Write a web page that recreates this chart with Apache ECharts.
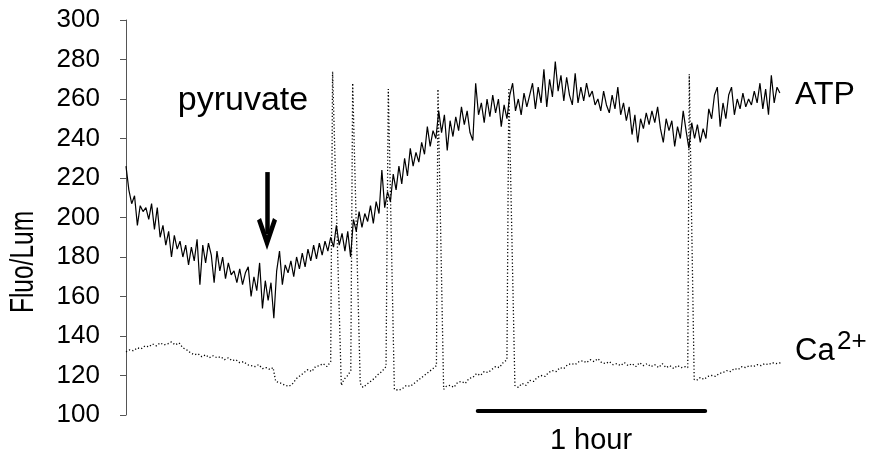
<!DOCTYPE html>
<html lang="en">
<head>
    <meta charset="UTF-8">
    <title>ATP / Ca2+</title>
    <script type="text/javascript" src="https://cdn.jsdelivr.net/npm/echarts@6.0.0/dist/echarts.min.js"></script>
    <style>
        html, body {margin: 0; padding: 0; background: #fff;}
        #chart {width: 881px; height: 461px;}
    </style>
</head>
<body>
<div id="chart"></div>
<script>
    // time axis in minutes, ATP sampled every 0.75 min
    var atpStep = 0.75;
    var atpValues = [
        226, 214, 207, 211, 196, 206, 203, 205, 199, 207,
        194, 205, 190, 196, 186, 193, 180, 191, 184, 188,
        180, 186, 176, 185, 178, 189, 166, 186, 177, 187,
        181, 167, 183, 173, 180, 169, 177, 171, 173, 167,
        174, 166, 172, 175, 160, 170, 163, 177, 154, 168,
        158, 167, 149, 173, 183, 166, 176, 172, 178, 170,
        180, 174, 182, 175, 184, 178, 186, 179, 187, 181,
        188, 183, 190, 185, 196, 186, 192, 183, 193, 180,
        199, 193, 203, 195, 202, 198, 206, 197, 208, 202,
        224, 205, 213, 208, 222, 214, 226, 217, 230, 221,
        235, 226, 233, 228, 238, 232, 246, 236, 244, 240,
        254, 243, 252, 234, 249, 241, 251, 244, 256, 247,
        254, 243, 239, 268, 252, 258, 248, 260, 251, 262,
        253, 260, 246, 257, 250, 262, 268, 254, 260, 252,
        263, 256, 262, 268, 255, 266, 258, 275, 256, 270,
        261, 279, 264, 272, 259, 271, 262, 257, 273, 258,
        266, 259, 268, 261, 264, 257, 260, 254, 264, 257,
        253, 262, 255, 266, 252, 258, 249, 256, 242, 252,
        238, 250, 245, 253, 247, 254, 248, 256, 245, 238,
        250, 244, 249, 236, 246, 240, 254, 244, 235, 248,
        240, 247, 238, 245, 240, 255, 250, 262, 266, 246,
        258, 250, 262, 266, 252, 260, 255, 263, 256, 260,
        257, 264, 258, 268, 255, 265, 252, 272, 258, 266,
        263
    ];

    // Ca2+ trace: [minute, value]
    var caData = [
        [0, 132], [1, 133], [2, 132.5], [3, 134], [4, 133.5], [5, 135], [6, 134.5], [7, 136], [8, 135], [9, 136.5],
        [10, 135.5], [11, 136], [12, 137], [13, 135.5], [14, 136.5], [15, 134], [16, 133], [17, 131.5], [18, 130.5], [19, 131],
        [20, 129.5], [21, 130.5], [22, 129], [23, 130], [24, 129], [25, 129.5], [26, 128], [27, 129], [28, 127.5], [29, 128],
        [30, 126.5], [31, 127], [32, 125.5], [33, 125], [34, 124.5], [35, 125.5], [36, 123.5], [37, 124], [38, 123], [38.8, 124],
        [39.5, 117], [40, 116.5], [41, 116], [42, 115], [43, 114.5], [44, 116], [45, 118.5], [46, 120], [47, 121.5], [48, 123],
        [49, 122], [50, 124.5], [51, 125], [52, 126], [53, 124.5], [54, 127],
        [54.5, 274], [56.8, 115], [57.5, 118], [58.5, 120], [59.3, 122.5],
        [59.8, 268], [61.8, 116], [62.5, 114], [63.5, 115.5], [64.5, 117], [65.5, 118.5], [66.5, 120.5], [67.5, 122], [68.6, 124.5],
        [69.2, 265], [70.8, 113], [72, 112.5], [73, 113.5], [74, 115], [75, 114.5], [76, 116], [77, 117.5], [78, 119], [79, 120.5],
        [80, 122], [81, 123.5], [81.9, 125],
        [82.3, 265], [83.8, 113], [84.5, 114.5], [85.5, 115], [86.5, 114], [87.5, 116.5], [88.5, 117], [89.5, 116], [90.5, 118.5],
        [91.5, 119], [92.5, 121], [93.5, 120], [94.5, 122], [95.5, 121.5], [96.5, 123], [97.5, 124.5], [98.5, 124], [99.5, 126.5], [100.5, 128],
        [101, 265.6], [102.6, 115], [103.5, 114], [104.5, 116], [105.5, 115], [106.5, 117.5], [107.5, 117], [108.5, 119], [109.5, 120],
        [110.5, 119.5], [111.5, 121.5], [112.5, 122.5], [113.5, 122], [114.5, 124], [115.5, 123.5], [116.5, 125.5], [117.5, 126], [118.5, 125.5],
        [119.5, 127], [120.5, 127.5], [121.5, 126.5], [122.5, 128], [123.5, 127], [124.5, 128.5], [125.5, 126.5], [126.5, 126], [127.5, 127],
        [128.5, 125.5], [129.5, 126], [130.5, 125], [131.5, 126.5], [132.5, 125], [133.5, 126], [134.5, 124.5], [135.5, 126.5], [136.5, 125],
        [137.5, 126], [138.5, 124.5], [139.5, 125.5], [140.5, 124], [141.5, 126], [142.5, 124], [143.5, 125], [144.5, 123.5], [145.5, 125],
        [146.5, 124], [147.5, 124.5], [148.2, 124],
        [148.6, 272.6], [149.9, 118], [150.5, 117.5], [151.5, 119], [152.5, 118], [153.5, 119.5], [154.5, 120], [155.5, 119.5], [156.5, 121],
        [157.5, 121.5], [158.5, 122.5], [159.5, 122], [160.5, 123.5], [161.5, 123], [162.5, 124.5], [163.5, 124], [164.5, 125], [165.5, 124.5],
        [166.5, 125.5], [167.5, 125], [168.5, 126], [169.5, 125.5], [170.5, 126.5], [171.5, 126], [172.8, 126.5]
    ];

    var yTicks = [100, 300, 20];          // min, max, step
    var pyruvateAt = 37.2;                // minute of addition
    var arrowFrom = 223, arrowTo = 191.6; // arrow span on the y scale
    var scaleBarStart = 92.8, scaleBarMinutes = 60, scaleBarLevel = 102;

    var font = 'Liberation Sans';
    var atpData = atpValues.map(function (v, i) {
        return [i * atpStep, v];
    });

    var chevron = 'path://M10,0 L20,26 L16,28 L10,13 L4,28 L0,26 Z';

    var myChart = echarts.init(document.getElementById('chart'));
    var option = {
        animation: false,
        backgroundColor: '#fff',
        grid: {left: 126, right: 100, top: 20, bottom: 46},
        xAxis: {
            type: 'value',
            min: 0,
            max: 172.8,
            show: false
        },
        yAxis: {
            type: 'value',
            min: yTicks[0],
            max: yTicks[1],
            interval: yTicks[2],
            axisLine: {show: true, lineStyle: {color: '#555', width: 1}},
            axisTick: {show: true, length: 6, lineStyle: {color: '#555'}},
            splitLine: {show: false},
            axisLabel: {
                margin: 26,
                color: '#000',
                fontSize: 26,
                fontFamily: font
            }
        },
        series: [
            {
                name: 'ATP',
                type: 'line',
                showSymbol: false,
                data: atpData,
                lineStyle: {color: '#000', width: 1.2},
                z: 3,
                markLine: {
                    silent: true,
                    symbol: ['none', 'none'],
                    label: {show: false},
                    data: [
                        [
                            {coord: [scaleBarStart, scaleBarLevel], lineStyle: {color: '#000', width: 4, type: 'solid', cap: 'round'}},
                            {coord: [scaleBarStart + scaleBarMinutes, scaleBarLevel]}
                        ],
                        [
                            {coord: [pyruvateAt, arrowFrom], symbol: 'none', lineStyle: {color: '#000', width: 4.5, type: 'solid'}},
                            {coord: [pyruvateAt, arrowTo], symbol: chevron, symbolSize: [20, 32]}
                        ]
                    ]
                }
            },
            {
                name: 'Ca2+',
                type: 'line',
                showSymbol: false,
                data: caData,
                lineStyle: {color: '#000', width: 1.3, type: [1.2, 2.2]},
                z: 2
            }
        ],
        graphic: [
            // condensed axis title, reads bottom to top
            {type: 'text', x: 24, y: 262, rotation: Math.PI / 2, scaleX: 0.72,
                style: {text: 'Fluo/Lum', fontSize: 34, fontFamily: font, fill: '#000', align: 'center', verticalAlign: 'middle'}},
            {type: 'text', x: 243, y: 101,
                style: {text: 'pyruvate', fontSize: 34, fontFamily: font, fill: '#000', align: 'center', verticalAlign: 'middle'}},
            {type: 'text', x: 795, y: 95,
                style: {text: 'ATP', fontSize: 32, fontFamily: font, fill: '#000', align: 'left', verticalAlign: 'middle'}},
            {type: 'text', x: 795, y: 351,
                style: {text: 'Ca', fontSize: 31, fontFamily: font, fill: '#000', align: 'left', verticalAlign: 'middle'}},
            {type: 'text', x: 837, y: 342,
                style: {text: '2+', fontSize: 26, fontFamily: font, fill: '#000', align: 'left', verticalAlign: 'middle'}},
            {type: 'text', x: 591, y: 441,
                style: {text: '1 hour', fontSize: 29, fontFamily: font, fill: '#000', align: 'center', verticalAlign: 'middle'}}
        ]
    };
    myChart.setOption(option);
</script>
</body>
</html>
